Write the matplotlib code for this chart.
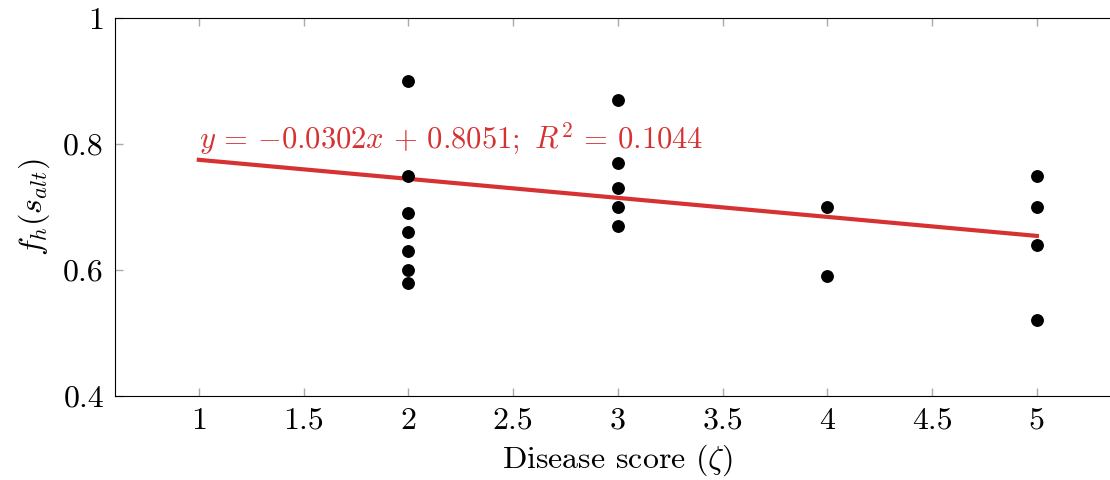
import numpy as np
import matplotlib
matplotlib.use("Agg")
import matplotlib.pyplot as plt

# disease score vs f_h(s_alt)
score = [2, 2, 2, 2, 2, 2, 2,
         3, 3, 3, 3, 3,
         4, 4,
         5, 5, 5, 5]
fh = [0.90, 0.75, 0.69, 0.66, 0.63, 0.60, 0.58,
      0.87, 0.77, 0.73, 0.70, 0.67,
      0.70, 0.59,
      0.75, 0.70, 0.64, 0.52]

slope = -0.0302
intercept = 0.8051
r2 = 0.1044
fit_x = [1, 5]

xticks = [1, 1.5, 2, 2.5, 3, 3.5, 4, 4.5, 5]
yticks = [0.4, 0.6, 0.8, 1.0]

plt.rcParams["font.family"] = "serif"
plt.rcParams["font.serif"] = ["cmr10"]
plt.rcParams["mathtext.fontset"] = "cm"
plt.rcParams["axes.formatter.use_mathtext"] = True

red = "#d73232"

fig = plt.figure(figsize=(11.1, 4.8), dpi=100)
ax = fig.add_axes([0.1036, 0.175, 0.906, 0.7875])

ax.scatter(score, fh, s=68, color="black", zorder=3)
fx = np.array(fit_x, dtype=float)
ax.plot(fx, slope * fx + intercept, color=red, lw=3, zorder=2)
ax.text(1.0, 0.793,
        r"$y\,=\,{-}%.4fx\,+\,%.4f;\ R^2\,=\,%.4f$" % (abs(slope), intercept, r2),
        color=red, fontsize=22, ha="left", va="baseline")

ax.set_xlim(0.6, 5.4)
ax.set_ylim(0.4, 1.0)
ax.set_xticks(xticks)
ax.set_xticklabels([("%g" % t) for t in xticks])
ax.set_yticks(yticks)
ax.set_yticklabels([("%g" % t) for t in yticks])
ax.tick_params(direction="in", length=6, width=1, color="#aaaaaa",
               top=True, right=True, labelsize=23, pad=8)

ax.set_xlabel(r"Disease score ($\zeta$)", fontsize=23, labelpad=6)
ax.set_ylabel(r"$f_h(s_{alt})$", fontsize=23, labelpad=8)

fig.savefig("out.png", dpi=100)
